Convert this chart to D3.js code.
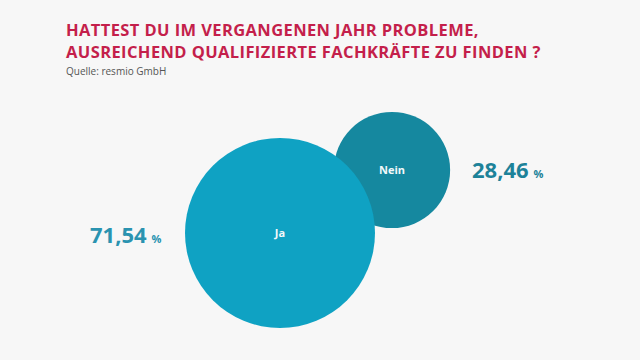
<!DOCTYPE html>
<html><head><meta charset="utf-8">
<script src="https://cdn.jsdelivr.net/npm/d3@7"></script>
<style>
html,body{margin:0;padding:0;background:#f7f7f7;}
svg{display:block;font-family:"Open Sans",sans-serif;}
</style></head>
<body>
<svg id="chart" width="640" height="360"></svg>
<script>
const titleLines = ["HATTEST DU IM VERGANGENEN JAHR PROBLEME,", "AUSREICHEND QUALIFIZIERTE FACHKRÄFTE ZU FINDEN ?"];
const source = "Quelle: resmio GmbH";
const categories = ["Nein", "Ja"];
const values = [28.46, 71.54];
const colors = ["#15889f", "#0fa2c3"];
const valueLabels = ["28,46", "71,54"];

const svg = d3.select("#chart");
svg.append("rect").attr("width", 640).attr("height", 360).attr("fill", "#f7f7f7");

svg.selectAll("text.title").data(titleLines).enter().append("text")
  .attr("class", "title")
  .attr("x", 66).attr("y", (d, i) => 35.5 + i * 22.5)
  .attr("fill", "#c41f4b").attr("font-size", 16.5).attr("font-weight", 700)
  .attr("letter-spacing", 0.4)
  .text(d => d);
svg.append("text").attr("x", 66).attr("y", 74.5).attr("fill", "#555")
  .attr("font-size", 10).text(source);

const r = d3.scaleSqrt().domain([0, d3.max(values)]).range([0, 95]);
const data = categories.map((c, i) => ({ c, v: values[i], color: colors[i], label: valueLabels[i] }));
// positions for the bubbles (layout)
const pos = { "Ja": [280, 233], "Nein": [392, 170] };

const g = svg.append("g");
g.selectAll("circle").data(data).enter().append("circle")
  .attr("cx", d => pos[d.c][0]).attr("cy", d => pos[d.c][1])
  .attr("r", d => r(d.v) * (d.c === "Nein" ? 0.97 : 1)).attr("fill", d => d.color);
g.selectAll("text.cat").data(data).enter().append("text")
  .attr("class", "cat")
  .attr("x", d => pos[d.c][0]).attr("y", d => pos[d.c][1] + 4)
  .attr("text-anchor", "middle").attr("fill", "#f2f8fa")
  .attr("font-size", 11).attr("font-weight", 700).text(d => d.c);

const lblPos = { "Ja": [90, 243, "start"], "Nein": [472, 178, "start"] };
data.forEach(d => {
  const t = svg.append("text").attr("x", lblPos[d.c][0]).attr("y", lblPos[d.c][1])
    .attr("fill", d.c === "Ja" ? "#2a93b0" : "#1d8299").attr("font-weight", 700);
  t.append("tspan").attr("font-size", 22).text(d.label);
  t.append("tspan").attr("font-size", 11).attr("dx", 5).text("%");
});
</script>
</body></html>
